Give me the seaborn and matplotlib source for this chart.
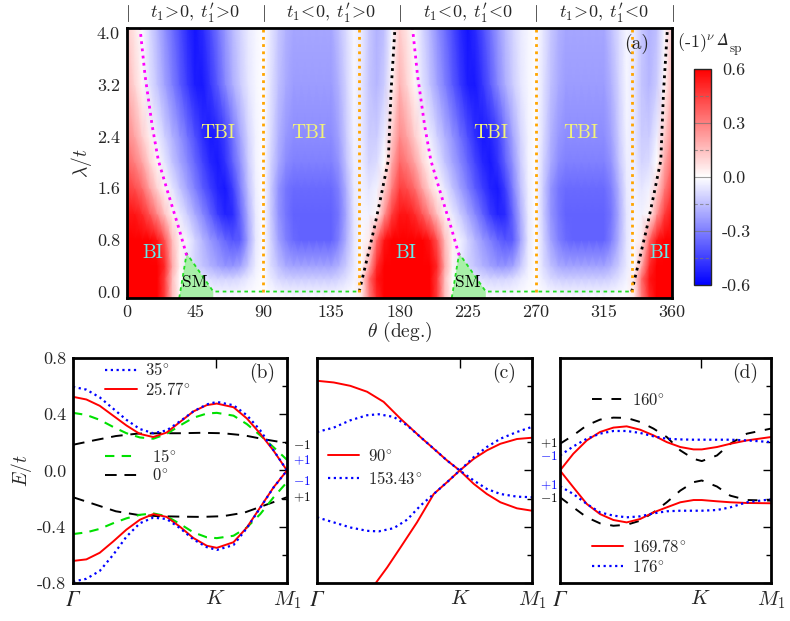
import numpy as np
import pandas as pd
import matplotlib
matplotlib.use("Agg")
import matplotlib.pyplot as plt
import matplotlib.transforms as mtransforms
from matplotlib.lines import Line2D
import seaborn as sns

sns.set_style("white")
plt.rcParams["font.family"] = ["cmr10", "DejaVu Serif"]
plt.rcParams["mathtext.fontset"] = "cm"
plt.rcParams["axes.unicode_minus"] = False
plt.rcParams["axes.formatter.use_mathtext"] = True

# ---------------- panel (a) data: (-1)^nu Delta_sp on a (theta, lambda) grid ----------------
# map repeats every 180 deg, values given for theta = 0, 5, ..., 175
theta_half = np.arange(0, 180, 5)
lam_rows = [-0.1, 0.2, 0.4, 0.8, 1.2, 1.6, 2.0, 2.4, 3.2, 4.1]
gap_rows = [
    [0.6, 0.6, 0.6, 0.6, 0.6, 0.45, 0.15, 0.02, 0, 0, 0, 0, 0, 0, 0, 0, 0, 0,
     0, 0, 0, 0, 0, 0, 0, 0, 0, 0, 0, 0, 0, 0.05, 0.3, 0.5, 0.6, 0.6],
    [0.6, 0.6, 0.6, 0.6, 0.6, 0.45, 0.15, 0.0, -0.02, -0.05, -0.06, -0.08, -0.1, -0.1, -0.1, -0.08, -0.05, -0.02,
     0, -0.05, -0.09, -0.11, -0.12, -0.12, -0.12, -0.12, -0.12, -0.12, -0.1, -0.07, -0.03, 0.05, 0.35, 0.55, 0.6, 0.6],
    [0.6, 0.6, 0.6, 0.6, 0.6, 0.5, 0.2, 0.03, -0.05, -0.1, -0.14, -0.18, -0.22, -0.25, -0.25, -0.22, -0.13, -0.04,
     0, -0.08, -0.15, -0.2, -0.22, -0.22, -0.22, -0.22, -0.22, -0.22, -0.18, -0.12, -0.05, 0.0, 0.2, 0.5, 0.6, 0.6],
    [0.6, 0.6, 0.6, 0.6, 0.55, 0.4, 0.15, 0.03, -0.03, -0.1, -0.17, -0.24, -0.3, -0.36, -0.4, -0.38, -0.22, -0.06,
     0, -0.1, -0.22, -0.3, -0.35, -0.37, -0.37, -0.37, -0.37, -0.37, -0.3, -0.18, -0.06, -0.01, 0.05, 0.35, 0.55, 0.6],
    [0.55, 0.55, 0.5, 0.4, 0.28, 0.14, 0.03, -0.05, -0.12, -0.2, -0.28, -0.37, -0.46, -0.52, -0.5, -0.36, -0.19, -0.05,
     0, -0.12, -0.25, -0.32, -0.37, -0.37, -0.37, -0.37, -0.37, -0.37, -0.32, -0.2, -0.06, -0.02, -0.03, 0.02, 0.25, 0.45],
    [0.45, 0.42, 0.35, 0.22, 0.1, 0.02, -0.06, -0.14, -0.22, -0.3, -0.38, -0.45, -0.52, -0.54, -0.45, -0.3, -0.15, -0.04,
     0, -0.12, -0.25, -0.32, -0.35, -0.35, -0.35, -0.35, -0.35, -0.35, -0.3, -0.18, -0.05, -0.03, -0.06, -0.03, 0.1, 0.3],
    [0.36, 0.3, 0.22, 0.1, 0.02, -0.06, -0.14, -0.21, -0.28, -0.36, -0.44, -0.51, -0.54, -0.48, -0.37, -0.25, -0.12, -0.03,
     0, -0.1, -0.2, -0.27, -0.3, -0.3, -0.3, -0.3, -0.3, -0.3, -0.25, -0.14, -0.04, -0.04, -0.1, -0.08, 0.0, 0.2],
    [0.28, 0.22, 0.12, 0.04, -0.04, -0.11, -0.18, -0.25, -0.33, -0.41, -0.49, -0.54, -0.52, -0.45, -0.33, -0.21, -0.1, -0.03,
     0, -0.08, -0.18, -0.24, -0.27, -0.27, -0.27, -0.27, -0.27, -0.27, -0.22, -0.12, -0.03, -0.05, -0.12, -0.12, -0.04, 0.12],
    [0.18, 0.1, 0.02, -0.07, -0.14, -0.22, -0.3, -0.38, -0.46, -0.53, -0.54, -0.47, -0.38, -0.28, -0.19, -0.12, -0.06, -0.02,
     0, -0.07, -0.15, -0.2, -0.23, -0.23, -0.23, -0.23, -0.23, -0.23, -0.18, -0.1, -0.02, -0.06, -0.14, -0.17, -0.12, 0.02],
    [0.12, 0.06, -0.01, -0.09, -0.17, -0.26, -0.34, -0.42, -0.5, -0.55, -0.5, -0.42, -0.33, -0.24, -0.16, -0.1, -0.05, -0.02,
     0, -0.06, -0.13, -0.18, -0.21, -0.21, -0.21, -0.21, -0.21, -0.21, -0.15, -0.08, -0.02, -0.05, -0.13, -0.18, -0.15, -0.02],
]

# phase boundaries (theta, lambda) for the first half, repeated at +180
magenta_theta = [39.4, 34.0, 27.3, 20.7, 16.6, 11.9, 8.6]
magenta_lam = [0.56, 1.0, 1.51, 2.03, 2.57, 3.35, 4.08]
black_theta = [153.4, 158.5, 163.5, 168.0, 172.6, 174.4, 177.0]
black_lam = [0.0, 0.5, 1.0, 1.5, 2.03, 3.09, 4.08]
orange_theta = [90, 153.43, 270, 333.43]
sm_theta = [34.5, 39.4, 57.0, 57.0]
sm_lam = [-0.1, 0.59, 0.0, -0.1]
sm_edge_theta = [34.5, 39.4, 57.0, 153.4]
sm_edge_lam = [-0.1, 0.59, 0.0, 0.0]

# ---------------- band structures, k in units of path Gamma->K->M1 (K at 2/3) ----------------
K_POS = 2.0 / 3.0
b_k = [0, 0.0625, 0.125, 0.1875, 0.25, 0.3125, 0.375, 0.4375, 0.5, 0.5625, 0.625, 0.672, 0.75, 0.8125, 0.875, 0.9375, 1]
b_e35u = [0.595, 0.575, 0.52, 0.44, 0.36, 0.295, 0.265, 0.285, 0.35, 0.42, 0.47, 0.488, 0.464, 0.393, 0.286, 0.143, 0.0]
b_e35l = [-0.79, -0.77, -0.714, -0.6, -0.47, -0.375, -0.335, -0.345, -0.41, -0.49, -0.545, -0.565, -0.53, -0.41, -0.265, -0.12, 0.0]
b_e26u = [0.524, 0.505, 0.46, 0.39, 0.32, 0.26, 0.238, 0.27, 0.345, 0.42, 0.465, 0.476, 0.45, 0.37, 0.262, 0.14, 0.0]
b_e26l = [-0.643, -0.632, -0.585, -0.505, -0.42, -0.35, -0.31, -0.33, -0.4, -0.48, -0.535, -0.55, -0.51, -0.405, -0.262, -0.119, 0.0]
b_e15u = [0.41, 0.395, 0.36, 0.31, 0.265, 0.235, 0.226, 0.26, 0.32, 0.375, 0.405, 0.41, 0.39, 0.33, 0.25, 0.165, 0.076]
b_e15l = [-0.452, -0.44, -0.415, -0.375, -0.34, -0.315, -0.305, -0.325, -0.38, -0.44, -0.475, -0.481, -0.464, -0.405, -0.31, -0.19, -0.083]
b_k0 = [0, 0.1, 0.2, 0.3, 0.4, 0.5, 0.6, 0.7, 0.8, 0.9, 1]
b_e0u = [0.183, 0.215, 0.245, 0.262, 0.265, 0.265, 0.268, 0.265, 0.25, 0.22, 0.195]
b_e0l = [-0.19, -0.24, -0.29, -0.315, -0.325, -0.328, -0.33, -0.325, -0.3, -0.245, -0.19]

c_k90a = [0, 0.078, 0.155, 0.233, 0.31, 0.388, 0.481, 0.543, 0.605, 0.664, 0.729, 0.79, 0.853, 0.93, 1]
c_e90a = [0.638, 0.626, 0.602, 0.56, 0.488, 0.369, 0.238, 0.155, 0.071, 0.0, -0.095, -0.167, -0.226, -0.269, -0.286]
c_k90b = [0.271, 0.326, 0.388, 0.465, 0.543, 0.605, 0.664, 0.729, 0.79, 0.853, 0.93, 1]
c_e90b = [-0.805, -0.69, -0.548, -0.369, -0.167, -0.083, 0.0, 0.083, 0.143, 0.19, 0.224, 0.233]
c_k153 = [0, 0.078, 0.155, 0.233, 0.287, 0.357, 0.419, 0.481, 0.543, 0.605, 0.664, 0.729, 0.79, 0.853, 0.93, 1]
c_e153u = [0.274, 0.305, 0.357, 0.393, 0.4, 0.381, 0.321, 0.238, 0.155, 0.071, 0.0, -0.071, -0.131, -0.167, -0.186, -0.19]
c_e153l = [-0.333, -0.369, -0.405, -0.429, -0.433, -0.41, -0.35, -0.25, -0.167, -0.083, 0.0, 0.095, 0.167, 0.226, 0.274, 0.31]

d_k = [0, 0.063, 0.127, 0.19, 0.253, 0.316, 0.38, 0.443, 0.506, 0.57, 0.633, 0.672, 0.744, 0.807, 0.886, 1]
d_e170u = [0.0, 0.119, 0.214, 0.274, 0.305, 0.314, 0.29, 0.25, 0.202, 0.167, 0.15, 0.15, 0.167, 0.19, 0.214, 0.238]
d_e170l = [0.0, -0.119, -0.238, -0.31, -0.352, -0.369, -0.345, -0.298, -0.262, -0.226, -0.21, -0.21, -0.219, -0.226, -0.231, -0.233]
d_e176u = [0.107, 0.171, 0.226, 0.262, 0.281, 0.281, 0.267, 0.243, 0.226, 0.221, 0.219, 0.219, 0.219, 0.219, 0.214, 0.202]
d_e176l = [-0.112, -0.167, -0.238, -0.298, -0.321, -0.333, -0.326, -0.305, -0.29, -0.286, -0.286, -0.286, -0.281, -0.262, -0.226, -0.205]
d_e160u = [0.19, 0.25, 0.321, 0.362, 0.376, 0.374, 0.345, 0.298, 0.238, 0.143, 0.083, 0.067, 0.107, 0.19, 0.262, 0.298]
d_e160l = [-0.19, -0.262, -0.333, -0.376, -0.393, -0.386, -0.357, -0.298, -0.226, -0.143, -0.083, -0.071, -0.114, -0.179, -0.21, -0.214]

# ---------------- styles ----------------
RED = dict(color="#ff0000", lw=1.4, ls="-")
BLUE = dict(color="#0000ff", lw=1.6, ls=(0, (1.0, 1.6)))
GREEN = dict(color="#00e000", lw=1.5, ls=(0, (4.5, 3.5)))
BLACK = dict(color="black", lw=1.4, ls=(0, (6, 4)))
BLACK_D = dict(BLACK, ls=(0, (5, 5)))

W, H = 790, 621
fig = plt.figure(figsize=(W / 100, H / 100), dpi=100)


def px_axes(x0, y0, x1, y1):
    return fig.add_axes([x0 / W, 1 - y1 / H, (x1 - x0) / W, (y1 - y0) / H])


def frame(ax):
    for s in ax.spines.values():
        s.set_linewidth(2.0)
        s.set_color("black")
        s.set_zorder(10)
    ax.tick_params(which="both", direction="in", top=True, right=True, color="black",
                   labelsize=13, pad=5)
    ax.tick_params(which="major", length=6, width=1.0)
    ax.tick_params(which="minor", length=3.5, width=1.0)


# ---------------- panel (a) ----------------
ax_a = px_axes(127, 28, 672, 298)
theta_full = np.concatenate([theta_half, theta_half + 180, [360]])
Z = np.array(gap_rows)
Z_full = np.concatenate([Z, Z, Z[:, :1]], axis=1)
TH, LA = np.meshgrid(theta_full, lam_rows)
mesh = ax_a.pcolormesh(TH, LA, Z_full, shading="gouraud", cmap="bwr", vmin=-0.6, vmax=0.6,
                       rasterized=True)

for shift in (0, 180):
    ax_a.fill(np.add(sm_theta, shift), sm_lam, color="#a8f0a8", lw=0, zorder=2)
    sns.lineplot(x=np.add(sm_edge_theta, shift), y=sm_edge_lam, sort=False, estimator=None, ax=ax_a,
                 color="#22dd22", lw=1.3, ls=(0, (2, 2)), zorder=3)
    sns.lineplot(x=np.add(magenta_theta, shift), y=magenta_lam, sort=False, estimator=None, ax=ax_a,
                 color="#ff00ff", lw=2.0, ls=(0, (1, 1.6)), zorder=3)
    sns.lineplot(x=np.add(black_theta, shift), y=black_lam, sort=False, estimator=None, ax=ax_a,
                 color="black", lw=2.0, ls=(0, (1, 1.6)), zorder=3)
ax_a.vlines(orange_theta, 0, 4.08, colors="#ffa500", lw=2.0, linestyles=[(0, (1, 1.6))], zorder=3)

ax_a.set_xlim(0, 360)
ax_a.set_ylim(-0.1, 4.08)
frame(ax_a)
ax_a.tick_params(which="major", length=7)
ax_a.set_xticks(np.arange(0, 361, 45))
ax_a.set_xticks(np.arange(0, 361, 9), minor=True)
ax_a.set_xticklabels([str(v) for v in range(0, 361, 45)])
ax_a.set_yticks(np.arange(0, 4.01, 0.8))
ax_a.set_yticks(np.arange(0, 4.01, 0.4), minor=True)
ax_a.set_yticklabels(["%.1f" % v for v in np.arange(0, 4.01, 0.8)])
ax_a.set_xlabel(r"$\theta$ (deg.)", fontsize=14, labelpad=0)
ax_a.set_ylabel(r"$\lambda/t$", fontsize=14, labelpad=2)

for th, lab in [(17, "BI"), (184, "BI"), (352, "BI")]:
    ax_a.text(th, 0.6, lab, color="#66eaea", fontsize=14, ha="center", va="center", zorder=5)
for th in (45, 225):
    ax_a.text(th, 0.15, "SM", color="black", fontsize=12.5, ha="center", va="center", zorder=5)
for th in (60, 120, 240, 300):
    ax_a.text(th, 2.45, "TBI", color="#f2f27a", fontsize=14, ha="center", va="center", zorder=5)
ax_a.text(0.936, 0.94, "(a)", transform=ax_a.transAxes, fontsize=14, ha="center", va="center", zorder=5)

# header above panel (a)
hdr = mtransforms.blended_transform_factory(ax_a.transData, ax_a.transAxes)
for th in range(0, 361, 90):
    ax_a.text(th, 1.055, r"$|$", transform=hdr, fontsize=13, ha="center", va="center", clip_on=False)
headers = [r"$t_1\!>\!0,\;t_1^{\prime}\!>\!0$", r"$t_1\!<\!0,\;t_1^{\prime}\!>\!0$",
           r"$t_1\!<\!0,\;t_1^{\prime}\!<\!0$", r"$t_1\!>\!0,\;t_1^{\prime}\!<\!0$"]
for th, lab in zip(range(45, 360, 90), headers):
    ax_a.text(th, 1.055, lab, transform=hdr, fontsize=13, ha="center", va="center", clip_on=False)

# colorbar
cax = px_axes(694, 69, 711, 285)
cb = fig.colorbar(mesh, cax=cax, ticks=[-0.6, -0.3, 0.0, 0.3, 0.6])
cb.outline.set_linewidth(1.0)
cax.set_yticklabels(["-0.6", "-0.3", "0.0", "0.3", "0.6"])
cax.tick_params(length=0, labelsize=13, pad=8)
for lev in (-0.45, -0.15, 0.15, 0.45):
    cax.axhline(lev, color="#777777", lw=0.8, ls=(0, (3, 2)), alpha=0.7)
for lev in (-0.3, 0.0, 0.3):
    cax.axhline(lev, color="#777777", lw=0.8, alpha=0.7)
t_nu = fig.text(677 / W, 1 - 47 / H, r"(-1)$^{\nu}$", fontsize=13, ha="left", va="baseline")
t_del = ax_a.annotate("\u0394", xy=(1, 0), xycoords=t_nu, xytext=(1.5, 3.2), textcoords="offset points",
                      fontsize=13, family="STIXGeneral", style="italic", ha="left", va="bottom",
                      annotation_clip=False)
ax_a.annotate("sp", xy=(1, 0), xycoords=t_del, xytext=(0.5, 0), textcoords="offset points",
              fontsize=9.5, ha="left", va="center", annotation_clip=False)


# ---------------- bottom panels ----------------
def band_axes(x0, x1, show_y):
    ax = px_axes(x0, 358, x1, 583)
    ax.set_xlim(0, 1)
    ax.set_ylim(-0.8, 0.8)
    frame(ax)
    ax.set_xticks([0, K_POS, 1])
    ax.set_xticklabels(["\u0393", r"$K$", r"$M_1$"], fontsize=15)
    gam = ax.get_xticklabels()[0]
    gam.set_fontfamily("STIXGeneral")
    gam.set_fontstyle("italic")
    gam.set_fontsize(16)
    ax.set_yticks(np.arange(-0.8, 0.81, 0.4))
    ax.set_yticks(np.arange(-0.8, 0.81, 0.2), minor=True)
    if show_y:
        ax.set_yticklabels(["%.1f" % v for v in np.arange(-0.8, 0.81, 0.4)])
    else:
        ax.set_yticklabels([])
    ax.tick_params(axis="x", which="major", length=7)
    return ax


def band(ax, k, e, style, label=None):
    sns.lineplot(x=k, y=e, estimator=None, ax=ax, label=label, **style)


ax_b = band_axes(73, 287, True)
ax_b.set_ylabel(r"$E/t$", fontsize=14, labelpad=2)
band(ax_b, b_k0, b_e0u, BLACK)
band(ax_b, b_k0, b_e0l, BLACK)
band(ax_b, b_k, b_e15u, GREEN)
band(ax_b, b_k, b_e15l, GREEN)
band(ax_b, b_k, b_e26u, RED)
band(ax_b, b_k, b_e26l, RED)
band(ax_b, b_k, b_e35u, BLUE)
band(ax_b, b_k, b_e35l, BLUE)
ax_b.text(0.883, 0.933, "(b)", transform=ax_b.transAxes, fontsize=14, ha="center", va="center")

ax_c = band_axes(317, 532, False)
band(ax_c, c_k90a, c_e90a, RED)
band(ax_c, c_k90b, c_e90b, RED)
band(ax_c, c_k153, c_e153u, BLUE)
band(ax_c, c_k153, c_e153l, BLUE)
ax_c.text(0.87, 0.933, "(c)", transform=ax_c.transAxes, fontsize=14, ha="center", va="center")

ax_d = band_axes(560, 771, False)
band(ax_d, d_k, d_e160u, BLACK_D)
band(ax_d, d_k, d_e160l, BLACK_D)
band(ax_d, d_k, d_e170u, RED)
band(ax_d, d_k, d_e170l, RED)
band(ax_d, d_k, d_e176u, BLUE)
band(ax_d, d_k, d_e176l, BLUE)
ax_d.text(0.877, 0.933, "(d)", transform=ax_d.transAxes, fontsize=14, ha="center", va="center")

for ax in (ax_b, ax_c, ax_d):
    if ax.get_legend() is not None:
        ax.get_legend().remove()


def h(style):
    return Line2D([], [], **style)


LEG = dict(frameon=False, fontsize=12, handlelength=1.9, handletextpad=0.5, labelspacing=0.15,
           borderaxespad=0, borderpad=0)
l1 = ax_b.legend([h(BLUE), h(RED)], [r"$35^{\circ}$", r"$25.77^{\circ}$"], loc="upper left",
                 bbox_to_anchor=(0.15, 0.985), **LEG)
ax_b.add_artist(l1)
ax_b.legend([h(GREEN), h(BLACK)], [r"$15^{\circ}$", r"$0^{\circ}$"], loc="upper left",
            bbox_to_anchor=(0.15, 0.6), **dict(LEG, handletextpad=0.9))
ax_c.legend([h(RED), h(BLUE)], [r"$90^{\circ}$", r"$153.43^{\circ}$"], loc="upper left",
            bbox_to_anchor=(0.05, 0.6), **dict(LEG, labelspacing=0.35))
l2 = ax_d.legend([h(BLACK_D)], [r"$160^{\circ}$"], loc="upper left",
                 bbox_to_anchor=(0.15, 0.85), **LEG)
ax_d.add_artist(l2)
ax_d.legend([h(RED), h(BLUE)], [r"$169.78^{\circ}$", r"$176^{\circ}$"], loc="upper left",
            bbox_to_anchor=(0.15, 0.2), **LEG)

# Chern-type labels at the band edges
tb = mtransforms.blended_transform_factory(ax_b.transAxes, ax_b.transData)
for e, s, c in [(0.175, r"$-1$", "black"), (0.072, r"$+1$", "blue"),
                (-0.08, r"$-1$", "blue"), (-0.19, r"$+1$", "black")]:
    ax_b.text(1.03, e, s, transform=tb, color=c, fontsize=9.5, ha="left", va="center", clip_on=False)
td = mtransforms.blended_transform_factory(ax_d.transAxes, ax_d.transData)
for e, s, c in [(0.19, r"$+1$", "black"), (0.1, r"$-1$", "blue"),
                (-0.11, r"$+1$", "blue"), (-0.2, r"$-1$", "black")]:
    ax_d.text(-0.01, e, s, transform=td, color=c, fontsize=9.5, ha="right", va="center", clip_on=False)

fig.savefig("out.png", dpi=100)
